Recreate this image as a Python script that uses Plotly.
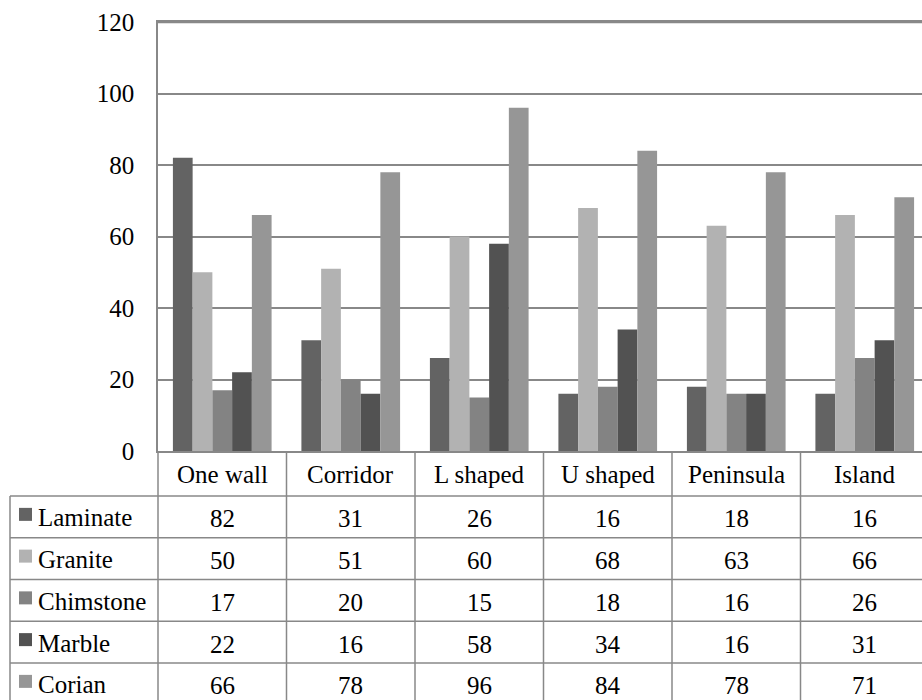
import plotly.graph_objects as go

# ---- data ----
categories = ["One wall", "Corridor", "L shaped", "U shaped", "Peninsula", "Island"]
series_names = ["Laminate", "Granite", "Chimstone", "Marble", "Corian"]
laminate = [82, 31, 26, 16, 18, 16]
granite = [50, 51, 60, 68, 63, 66]
chimstone = [17, 20, 15, 18, 16, 26]
marble = [22, 16, 58, 34, 16, 31]
corian = [66, 78, 96, 84, 78, 71]
y_tick_values = [0, 20, 40, 60, 80, 100, 120]

series_values = [laminate, granite, chimstone, marble, corian]
colors = ["#636363", "#b2b2b2", "#838383", "#525252", "#969696"]

# ---- page geometry (pixels) ----
W, H = 922, 700
ML, MT, MB, MR = 158, 22, 249, 0
PLOT_W = W - ML - MR
PLOT_H = H - MT - MB
BASE_Y = H - MB           # pixel row of the value axis zero line
HEADER_H = 45             # category header row under the bars
ROW_H = 41.75             # one data-table row
TABLE_LEFT = 10           # left edge of the series-name column
GRID = "#888888"
FONT = "Liberation Serif"
FS = 25


def py(pix):
    """pixel row -> paper y"""
    return (BASE_Y - pix) / PLOT_H


def px(pix):
    """pixel column -> paper x"""
    return (pix - ML) / PLOT_W


fig = go.Figure()
for name, vals, col in zip(series_names, series_values, colors):
    fig.add_trace(go.Bar(
        x=categories, y=vals, name=name,
        marker=dict(color=col, line=dict(width=0)),
        showlegend=False, hoverinfo="x+y+name",
    ))

shapes = []
annotations = []

# top border of the plot area
shapes.append(dict(type="line", xref="paper", yref="paper",
                   x0=0, x1=1, y0=py(MT + 0.5), y1=py(MT + 0.5),
                   line=dict(color=GRID, width=1.5), layer="above"))

# horizontal table rules
row_tops = [BASE_Y + HEADER_H + i * ROW_H for i in range(len(series_names) + 1)]
for r in row_tops:
    shapes.append(dict(type="line", xref="paper", yref="paper",
                       x0=px(TABLE_LEFT), x1=1.02, y0=py(r), y1=py(r),
                       line=dict(color=GRID, width=1.5)))

# vertical rules between categories
bottom = py(H + 10)
for i in range(len(categories) - 1):
    shapes.append(dict(type="line", xref="x", yref="paper",
                       x0=i + 0.5, x1=i + 0.5, y0=0, y1=bottom,
                       line=dict(color=GRID, width=1.5)))
# left edge of value columns and of the name column
shapes.append(dict(type="line", xref="paper", yref="paper",
                   x0=0, x1=0, y0=0, y1=bottom,
                   line=dict(color=GRID, width=1.5)))
shapes.append(dict(type="line", xref="paper", yref="paper",
                   x0=px(TABLE_LEFT), x1=px(TABLE_LEFT),
                   y0=py(row_tops[0]), y1=bottom,
                   line=dict(color=GRID, width=1.5)))

# category header labels
for cat in categories:
    annotations.append(dict(x=cat, xref="x", y=py(BASE_Y + HEADER_H / 2 + 1), yref="paper",
                            text=cat, showarrow=False, xanchor="center", yanchor="middle",
                            font=dict(family=FONT, size=FS, color="black")))

# table body: series key, name and values
for r, (name, vals, col) in enumerate(zip(series_names, series_values, colors)):
    top = row_tops[r]
    mid = top + ROW_H / 2
    shapes.append(dict(type="rect", xref="paper", yref="paper",
                       x0=px(19), x1=px(32), y0=py(mid - 9), y1=py(mid + 4),
                       fillcolor=col, line=dict(width=0)))
    annotations.append(dict(x=px(36), xref="paper", y=py(mid + 1), yref="paper",
                            text=name, showarrow=False, xanchor="left", yanchor="middle",
                            font=dict(family=FONT, size=FS, color="black")))
    for cat, v in zip(categories, vals):
        annotations.append(dict(x=cat, xref="x", y=py(mid + 2), yref="paper",
                                text=str(v), showarrow=False, xanchor="center",
                                yanchor="middle",
                                font=dict(family=FONT, size=FS, color="black")))

# visible span of the category axis (right-most column runs past the page edge)
x_right = len(categories) - 0.5 - 7 / 128.5

fig.update_layout(
    width=W, height=H,
    margin=dict(l=ML, r=MR, t=MT, b=MB, pad=0),
    paper_bgcolor="white", plot_bgcolor="white",
    barmode="group", bargap=0.232, bargroupgap=0,
    shapes=shapes, annotations=annotations,
    font=dict(family=FONT, size=FS, color="black"),
    xaxis=dict(range=[-0.5, x_right], showticklabels=False, ticks="",
               showgrid=False, zeroline=False, showline=True, mirror=True,
               linecolor=GRID, linewidth=1.5, fixedrange=True),
    yaxis=dict(range=[0, 120], tickvals=y_tick_values, ticks="",
               ticklabelstandoff=17, showgrid=True, gridcolor=GRID, gridwidth=1.5,
               zeroline=False, showline=True, linecolor=GRID, linewidth=1.5,
               tickfont=dict(family=FONT, size=FS, color="black"), fixedrange=True),
)

fig.write_html("out.html")
